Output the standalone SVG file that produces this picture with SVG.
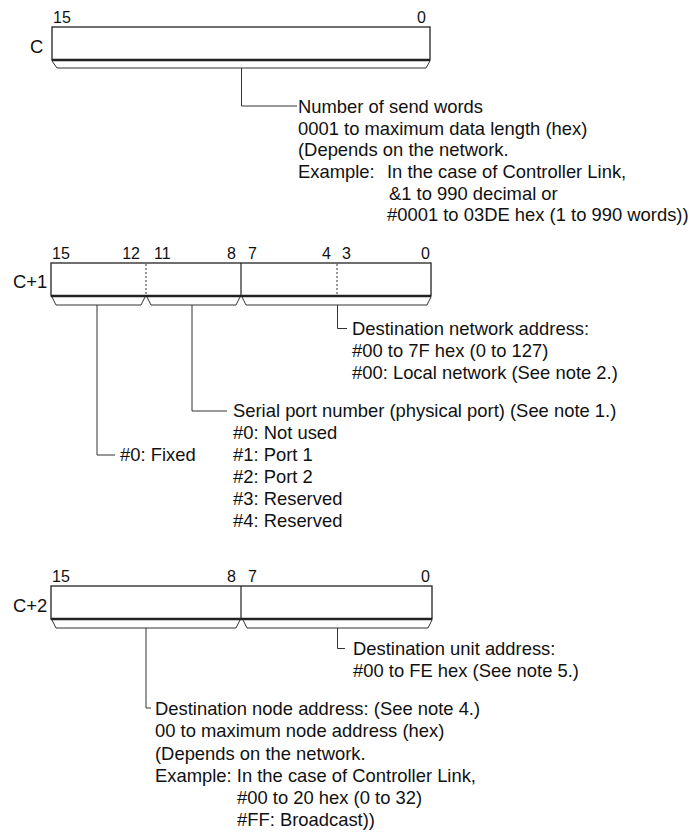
<svg xmlns="http://www.w3.org/2000/svg" width="692" height="832" viewBox="0 0 692 832">
<style>
text{font-family:"Liberation Sans",Arial,sans-serif;fill:#111}
.t{font-size:18.4px}
.b{font-size:16px}
.lbl{font-size:18.4px}
.box{fill:#fff;stroke:#222;stroke-width:1.3}
.bot{stroke:#222;stroke-width:2.4}
.div{stroke:#222;stroke-width:1.2}
.dot{stroke:#333;stroke-width:1;stroke-dasharray:2,2}
.br{fill:none;stroke:#333;stroke-width:1}
.ln{fill:none;stroke:#333;stroke-width:1}
</style>
<rect width="692" height="832" fill="#fff"/>

<g id="wordC">
<text class="lbl" x="30" y="53">C</text>
<text class="b" x="53" y="23">15</text>
<text class="b" x="426" y="23" text-anchor="end">0</text>
<rect class="box" x="52" y="27" width="378" height="33"/>
<line class="bot" x1="52" y1="60" x2="430" y2="60"/>
<path class="br" d="M52,61 L57,68 L426,68 L430,61"/>
</g>

<g id="wordC1">
<text class="lbl" x="13" y="288">C+1</text>
<text class="b" x="52" y="259">15</text>
<text class="b" x="140" y="259" text-anchor="end">12</text>
<text class="b" x="154" y="259">11</text>
<text class="b" x="236" y="259" text-anchor="end">8</text>
<text class="b" x="248" y="259">7</text>
<text class="b" x="331" y="259" text-anchor="end">4</text>
<text class="b" x="342" y="259">3</text>
<text class="b" x="430" y="259" text-anchor="end">0</text>
<rect class="box" x="51" y="263" width="380" height="33"/>
<line class="bot" x1="51" y1="296" x2="431" y2="296"/>
<line class="dot" x1="146" y1="264" x2="146" y2="295"/>
<line class="dot" x1="337" y1="264" x2="337" y2="295"/>
<line class="div" x1="241" y1="263" x2="241" y2="296"/>
<path class="br" d="M52,297 L56,305 L141,305 L145,297"/>
<path class="br" d="M147,297 L151,305 L236,305 L240,297"/>
<path class="br" d="M242,297 L246,305 L427,305 L431,297"/>
</g>

<g id="wordC2">
<text class="lbl" x="13" y="612">C+2</text>
<text class="b" x="52" y="582">15</text>
<text class="b" x="236" y="582" text-anchor="end">8</text>
<text class="b" x="248" y="582">7</text>
<text class="b" x="430" y="582" text-anchor="end">0</text>
<rect class="box" x="51" y="586" width="381" height="33"/>
<line class="bot" x1="51" y1="619" x2="432" y2="619"/>
<line class="div" x1="241" y1="586" x2="241" y2="619"/>
<path class="br" d="M52,620 L56,628 L236,628 L240,620"/>
<path class="br" d="M243,620 L247,628 L428,628 L432,620"/>
</g>

<g id="connectors">
<path class="ln" d="M241.5,68 V106 H297"/>
<path class="ln" d="M97,305 V455 H115"/>
<path class="ln" d="M192,305 V411 H227"/>
<path class="ln" d="M337.5,305 V328.5 H347"/>
<path class="ln" d="M146,628 V708 H151"/>
<path class="ln" d="M337.5,628 V648.5 H345"/>
</g>

<g id="noteSendWords">
<text class="t" x="298" y="113">Number of send words</text>
<text class="t" x="298" y="134.5">0001 to maximum data length (hex)</text>
<text class="t" x="298" y="156">(Depends on the network.</text>
<text class="t" x="298" y="177.5">Example:<tspan x="387">In the case of Controller Link,</tspan></text>
<text class="t" x="389" y="199.5">&amp;1 to 990 decimal or</text>
<text class="t" x="387" y="221">#0001 to 03DE hex (1 to 990 words))</text>
</g>

<g id="noteNetwork">
<text class="t" x="352" y="335">Destination network address:</text>
<text class="t" x="352" y="357">#00 to 7F hex (0 to 127)</text>
<text class="t" x="352" y="379">#00: Local network (See note 2.)</text>
</g>

<g id="noteSerial">
<text class="t" x="233" y="417">Serial port number (physical port) (See note 1.)</text>
<text class="t" x="233" y="439">#0: Not used</text>
<text class="t" x="233" y="461">#1: Port 1</text>
<text class="t" x="233" y="483">#2: Port 2</text>
<text class="t" x="233" y="505">#3: Reserved</text>
<text class="t" x="233" y="527">#4: Reserved</text>
</g>

<g id="noteFixed">
<text class="t" x="120" y="461">#0: Fixed</text>
</g>

<g id="noteUnit">
<text class="t" x="353" y="655">Destination unit address:</text>
<text class="t" x="353" y="677">#00 to FE hex (See note 5.)</text>
</g>

<g id="noteNode">
<text class="t" x="155" y="715">Destination node address: (See note 4.)</text>
<text class="t" x="155" y="737">00 to maximum node address (hex)</text>
<text class="t" x="155" y="759.5">(Depends on the network.</text>
<text class="t" x="155" y="782">Example: In the case of Controller Link,</text>
<text class="t" x="237" y="804">#00 to 20 hex (0 to 32)</text>
<text class="t" x="237" y="826">#FF: Broadcast))</text>
</g>
</svg>
